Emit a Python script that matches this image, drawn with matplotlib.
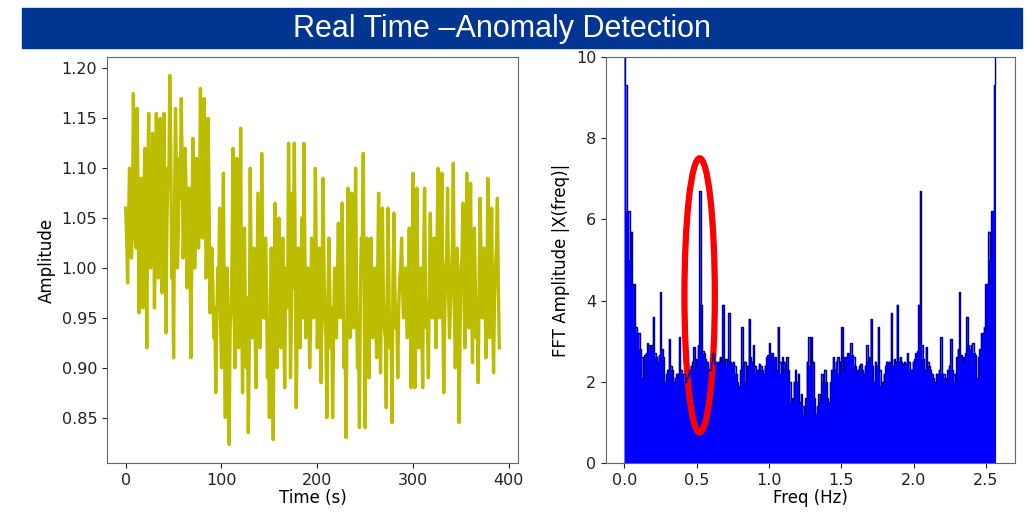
"""
Real time anomaly detection: signal and its FFT amplitude
"""
import numpy as np
import matplotlib.pyplot as plt
from matplotlib.patches import Ellipse, Rectangle

# time series, values at even seconds 0..390
amplitude_even = [
    1.06, 0.985, 1.10, 1.01, 1.175, 1.03, 1.16, 0.955, 1.09, 0.96,
    1.12, 0.92, 1.155, 1.00, 1.135, 0.96, 1.155, 0.99, 1.15, 0.975,
    1.155, 0.935, 1.10, 1.193, 0.99, 0.91, 1.16, 1.00, 1.11, 1.17,
    1.01, 1.12, 0.98, 1.08, 0.91, 1.13, 1.00, 1.11, 1.02, 1.18,
    1.03, 1.17, 0.99, 1.15, 0.955, 1.02, 0.93, 0.875, 1.00, 1.06,
    0.90, 1.095, 0.85, 1.00, 0.823, 0.96, 1.12, 0.90, 1.11, 0.92,
    1.14, 0.875, 1.04, 0.90, 0.835, 1.10, 0.93, 1.02, 0.88, 1.075,
    0.92, 1.115, 0.95, 1.03, 0.89, 0.85, 1.02, 0.828, 1.065, 0.90,
    1.05, 0.92, 1.03, 0.88, 0.96, 1.125, 0.89, 1.075, 1.125, 0.86,
    1.02, 0.92, 1.05, 1.125, 0.93, 1.00, 0.90, 1.03, 0.95, 1.10,
    0.92, 1.02, 0.885, 1.09, 0.95, 0.85, 1.03, 0.92, 0.85, 1.00,
    0.93, 1.045, 0.95, 1.065, 0.90, 0.83, 1.08, 0.93, 1.075, 0.94,
    1.10, 0.90, 0.84, 1.03, 1.115, 0.84, 1.03, 0.89, 1.03, 0.93,
    1.00, 0.91, 1.075, 0.895, 1.06, 0.94, 0.86, 1.06, 0.92, 0.845,
    1.055, 0.94, 0.89, 0.99, 1.03, 0.95, 1.00, 0.93, 1.04, 0.88,
    1.095, 0.88, 1.08, 0.92, 1.00, 0.88, 1.08, 0.94, 0.89, 1.055,
    0.95, 1.03, 0.92, 1.10, 0.95, 1.095, 0.875, 1.00, 1.08, 0.93,
    0.99, 1.105, 0.90, 1.02, 0.845, 1.00, 1.065, 0.92, 1.095, 0.94,
    1.085, 0.905, 1.04, 0.93, 0.885, 1.07, 0.95, 1.02, 0.91, 1.09,
    0.93, 1.06, 0.895, 1.00, 1.07, 0.92,
]
# values at odd seconds 1..389
amplitude_odd = [
    1.03, 1.05, 1.08, 1.04, 1.10, 1.02, 1.06, 1.03, 1.00, 1.07,
    1.04, 1.08, 1.02, 1.06, 1.10, 1.03, 1.07, 1.05, 1.09, 1.02,
    1.06, 1.04, 1.08, 1.12, 1.03, 1.06, 1.09, 1.04, 1.07, 1.10,
    1.05, 1.08, 1.02, 1.06, 1.01, 1.09, 1.04, 1.07, 1.05, 1.10,
    1.06, 1.09, 1.04, 1.07, 1.00, 0.98, 0.96, 0.94, 0.97, 0.95,
    0.99, 0.93, 0.96, 0.91, 0.94, 1.01, 0.97, 1.00, 0.95, 0.99,
    0.96, 1.00, 0.94, 0.97, 0.92, 0.99, 0.96, 0.94, 0.98, 1.00,
    0.97, 1.01, 0.95, 0.98, 0.93, 0.96, 0.94, 0.99, 0.95, 0.98,
    0.99, 0.96, 0.94, 1.00, 0.97, 1.02, 0.95, 0.98, 1.01, 0.94,
    0.97, 1.00, 0.95, 1.02, 0.96, 0.98, 0.94, 0.99, 0.97, 1.01,
    0.96, 0.94, 0.99, 1.00, 0.93, 0.95, 0.98, 0.96, 0.93, 0.97,
    0.99, 0.96, 1.00, 0.97, 0.94, 0.96, 0.99, 0.97, 0.95, 1.01,
    0.97, 0.94, 0.98, 1.02, 0.95, 0.97, 0.94, 0.99, 0.96, 0.98,
    0.95, 0.99, 0.96, 1.00, 0.97, 0.93, 0.98, 0.96, 0.94, 0.99,
    0.98, 0.95, 0.96, 1.00, 0.98, 0.97, 0.96, 0.99, 0.97, 1.00,
    0.98, 0.96, 0.99, 0.97, 0.95, 1.01, 0.97, 0.94, 0.99, 0.98,
    0.99, 0.96, 1.02, 0.97, 1.00, 0.96, 0.95, 1.01, 0.98, 0.96,
    1.02, 0.97, 0.94, 0.96, 0.93, 1.01, 0.99, 0.96, 1.02, 0.98,
    0.97, 1.00, 0.98, 0.94, 0.99, 1.01, 0.97, 0.98, 0.96, 1.01,
    0.99, 0.96, 0.97, 1.02, 0.98,
]
amplitude = np.empty(len(amplitude_even) + len(amplitude_odd))
amplitude[0::2] = amplitude_even
amplitude[1::2] = amplitude_odd
time_s = np.linspace(0, 390, len(amplitude))

# FFT amplitude, 0.01 Hz bins from 0 to 2.57 Hz (first/last bins are the DC spike)
fft_low = [
    60, 9.3, 6.2, 6.2, 5.0, 5.7, 4.4, 4.4, 3.35, 3.2,
    3.2, 2.8, 2.6, 2.1, 2.65, 2.7, 2.95, 2.9, 2.8, 2.9,
    3.6, 2.7, 2.6, 2.5, 2.65, 4.2, 2.8, 2.6, 2.0, 2.2,
    2.3, 3.05, 2.4, 2.3, 2.0, 2.1, 2.2, 2.2, 3.1, 2.3,
    2.2, 2.2, 2.0, 2.1, 2.2, 2.3, 2.4, 2.5, 2.85, 2.3,
    2.55, 2.9, 6.7, 3.9, 2.75, 2.7, 2.55, 2.5, 2.3, 2.3,
    2.5, 2.7, 2.45, 2.5, 2.45, 2.5, 2.6, 2.5, 3.9, 2.5,
    2.55, 2.4, 3.7, 2.5, 2.45, 2.5, 2.4, 2.2, 2.0, 1.9,
    2.3, 3.35, 2.4, 2.5, 2.0, 2.4, 3.55, 2.6, 2.5, 2.9,
    2.4, 2.2, 2.3, 2.45, 2.4, 2.3, 2.2, 2.4, 2.6, 2.65,
    2.95, 2.7, 2.7, 2.6, 2.6, 2.3, 3.35, 2.5, 2.2, 2.6,
    2.5, 2.3, 2.6, 2.3, 2.0, 1.5, 1.6, 2.0, 2.3, 2.0,
    2.2, 1.5, 1.7, 1.4, 1.2, 1.6, 2.5, 3.1, 2.4,
]
fft_high = [
    3.1, 2.5, 1.6, 1.2, 1.4, 1.7, 1.5, 2.2, 2.0, 2.3,
    2.0, 1.6, 1.5, 2.0, 2.3, 2.6, 2.3, 2.5, 2.6, 2.2,
    2.5, 3.35, 2.3, 2.6, 2.6, 2.7, 2.7, 2.95, 2.65, 2.6,
    2.4, 2.2, 2.3, 2.4, 2.45, 2.3, 2.2, 2.4, 2.9, 2.5,
    2.6, 3.55, 2.4, 2.0, 2.5, 2.4, 3.35, 2.3, 1.9, 2.0,
    2.2, 2.4, 2.5, 2.45, 2.5, 3.7, 2.4, 2.55, 2.5, 3.9,
    2.5, 2.6, 2.5, 2.45, 2.5, 2.45, 2.7, 2.5, 2.3, 2.3,
    2.5, 2.55, 2.7, 2.75, 3.9, 6.7, 2.9, 2.55, 2.3, 2.85,
    2.5, 2.4, 2.3, 2.2, 2.1, 2.0, 2.2, 2.2, 2.3, 3.1,
    2.2, 2.2, 2.1, 2.0, 2.3, 2.4, 3.05, 2.3, 2.2, 2.0,
    2.6, 2.8, 4.2, 2.65, 2.5, 2.6, 2.7, 3.6, 2.9, 2.8,
    2.9, 2.95, 2.7, 2.65, 2.1, 2.6, 2.8, 3.2, 3.2, 3.35,
    4.4, 4.4, 5.7, 5.0, 6.2, 6.2, 9.3, 60,
]
fft_amp = np.array(fft_low + fft_high)
freq = np.linspace(0, 2.57, len(fft_amp))

title = "Real Time \u2013Anomaly Detection"

fig = plt.figure(figsize=(10.3, 5.16), dpi=100)

# banner
fig.patches.append(Rectangle((0.0214, 0.9076), 0.971, 0.0769,
                             transform=fig.transFigure, color='#003591', zorder=0))
fig.text(0.487, 0.9445, title, color='white', fontsize=22, ha='center', va='center',
         family=['Liberation Sans', 'DejaVu Sans'])

# time series
ax1 = fig.add_axes([0.1039, 0.1027, 0.399, 0.7868])
ax1.plot(time_s, amplitude, color='#bdbd00', lw=2.4)
ax1.set_xlabel('Time (s)', fontsize=12, labelpad=1)
ax1.set_ylabel('Amplitude', fontsize=12)
ax1.set_xticks([0, 100, 200, 300, 400])
ax1.set_yticks([0.85, 0.90, 0.95, 1.00, 1.05, 1.10, 1.15, 1.20])

# FFT
ax2 = fig.add_axes([0.5883, 0.1027, 0.397, 0.7868])
ax2.fill_between(freq, fft_amp, step='mid', color='#0000ff', lw=0)
ax2.step(freq, fft_amp, where='mid', color='#00009a', lw=1)
ax2.set_ylim(0, 10)
ax2.set_xlim(-0.128, 2.70)
ax2.set_xlabel('Freq (Hz)', fontsize=12, labelpad=1)
ax2.set_ylabel('FFT Amplitude |X(freq)|', fontsize=12)
ax2.add_patch(Ellipse((0.52, 4.13), 0.21, 6.75, fill=False, edgecolor='red', lw=4.5))

for ax in (ax1, ax2):
    ax.tick_params(labelsize=11.5, colors='#222222')
    for sp in ax.spines.values():
        sp.set_color('#666666')

fig.savefig('out.png', dpi=100)
